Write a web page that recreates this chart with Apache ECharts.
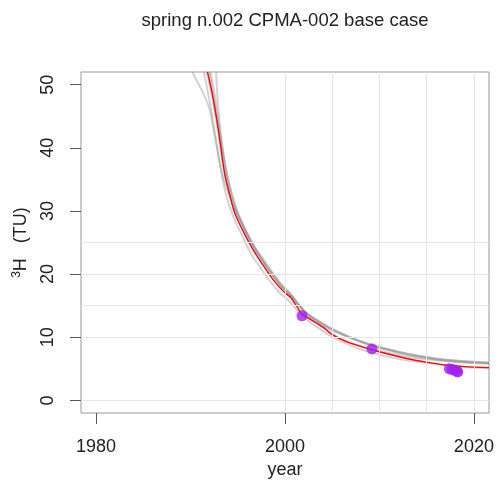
<!DOCTYPE html>
<html>
<head>
<meta charset="utf-8">
<script src="https://cdn.jsdelivr.net/npm/echarts@6/dist/echarts.min.js"></script>
<style>
  html, body { margin: 0; padding: 0; background: #fff; }
  #chart { width: 497px; height: 484px; }
</style>
</head>
<body>
<div id="chart"></div>
<script>
// Tritium decay curve for spring n.002: best-fit model (red), ensemble runs (gray), samples (purple)
const titleText = 'spring n.002 CPMA-002 base case';
const xTicks = [1980, 2000, 2020];
const yTicks = [0, 10, 20, 30, 40, 50];
const vGrid = [2000, 2005, 2010, 2015, 2020];
const hGrid = [0, 10, 15, 20, 25];

const redYears = [1991.8, 1992.4, 1993.0, 1993.6, 1994.2, 1994.7, 1995.5, 1996.6, 1997.5, 1998.7, 1999.8, 2000.6, 2001.2, 2001.8, 2002.6, 2004.0, 2005.0, 2006.5, 2009.0, 2011.0, 2013.0, 2015.0, 2017.0, 2019.0, 2021.6];
const redTU = [52, 47.8, 42.3, 36.0, 32.2, 29.6, 27.0, 23.9, 21.8, 19.2, 17.3, 16.3, 15.0, 13.7, 12.9, 11.6, 10.4, 9.3, 8.1, 7.3, 6.6, 6.05, 5.6, 5.35, 5.18];

const grayAYears = [1990.2, 1990.8, 1991.3, 1992.0, 1992.5, 1993.0, 1993.5, 1994.2, 1994.8, 1995.6, 1996.6, 1997.5, 1998.7, 1999.8, 2000.6, 2001.4, 2002.2, 2003.2, 2004.5, 2006.0, 2008.0, 2010.0, 2012.0, 2014.0, 2016.0, 2018.0, 2020.0, 2021.6];
const grayATU = [52, 50.2, 48.8, 46.2, 42.5, 38.4, 35.0, 32.0, 29.8, 27.4, 24.6, 22.5, 20.0, 17.9, 16.8, 15.2, 13.9, 12.8, 11.5, 10.4, 9.3, 8.4, 7.6, 7.0, 6.5, 6.2, 6.0, 5.85];

const grayBYears = [1992.7, 1992.9, 1993.2, 1993.6, 1994.1, 1994.7, 1995.5, 1996.6, 1997.5, 1998.7, 1999.8, 2000.6, 2001.4, 2002.2, 2003.2, 2004.5, 2006.0, 2008.0, 2010.0, 2012.0, 2014.0, 2016.0, 2018.0, 2020.0, 2021.6];
const grayBTU = [52, 47, 42, 37.5, 33.6, 30.4, 27.8, 24.8, 22.8, 20.2, 18.1, 16.9, 15.3, 13.9, 12.9, 11.7, 10.6, 9.4, 8.5, 7.7, 7.1, 6.6, 6.3, 6.1, 5.95];

const grayCYears = [1992.1, 1992.6, 1993.1, 1993.7, 1994.3, 1994.9, 1995.7, 1996.7, 1997.6, 1998.8, 1999.9, 2000.7, 2001.5, 2002.3, 2003.3, 2004.5, 2005.5, 2007.0, 2009.0, 2011.0, 2013.0, 2015.0, 2017.0, 2019.0, 2021.6];
const grayCTU = [52, 48.0, 43.0, 37.0, 33.0, 30.0, 27.3, 24.4, 22.2, 19.6, 17.6, 16.5, 15.0, 13.6, 12.6, 11.6, 10.9, 9.9, 8.7, 7.9, 7.2, 6.7, 6.3, 6.05, 5.9];

const grayDYears = [1991.4, 1992.0, 1992.6, 1993.2, 1993.8, 1994.5, 1995.4, 1996.4, 1997.4, 1998.6, 1999.6, 2000.5, 2001.3, 2002.2, 2003.4, 2004.6, 2006.0, 2008.0, 2010.0, 2012.0, 2014.0, 2016.0, 2018.0, 2020.0, 2021.6];
const grayDTU = [52, 47.5, 42.0, 36.5, 32.3, 29.2, 26.3, 23.2, 21.0, 18.5, 16.8, 15.6, 14.3, 12.9, 11.6, 10.4, 9.3, 8.1, 7.2, 6.6, 6.1, 5.7, 5.4, 5.2, 5.05];

const grayEYears = [1992.0, 1992.5, 1993.1, 1993.8, 1994.4, 1995.0, 1995.8, 1996.8, 1997.8, 1998.9, 2000.0, 2000.8, 2001.6, 2002.5, 2003.6, 2004.8, 2005.6, 2007.0, 2009.0, 2011.0, 2013.0, 2015.0, 2017.0, 2019.0, 2021.6];
const grayETU = [52, 47.6, 42.2, 36.2, 32.6, 29.8, 27.0, 24.0, 21.7, 19.4, 17.4, 16.2, 14.9, 13.3, 12.1, 10.9, 10.0, 9.1, 8.2, 7.5, 6.9, 6.5, 6.2, 6.0, 5.85];

const grayFYears = [1991.7, 1992.3, 1992.9, 1993.5, 1994.1, 1994.8, 1995.6, 1996.6, 1997.6, 1998.7, 1999.8, 2000.6, 2001.4, 2002.3, 2003.4, 2004.6, 2006.0, 2008.0, 2010.0, 2012.0, 2014.0, 2016.0, 2018.0, 2020.0, 2021.6];
const grayFTU = [52, 47.9, 42.6, 36.8, 33.0, 30.0, 27.5, 24.5, 22.2, 19.7, 17.7, 16.6, 15.2, 13.8, 12.7, 11.6, 10.5, 9.3, 8.4, 7.7, 7.1, 6.65, 6.3, 6.1, 6.0];

const sampleYears = [2001.8, 2009.2, 2017.4, 2017.7, 2017.9, 2018.2, 2018.3];
const sampleTU = [13.4, 8.15, 5.0, 4.9, 4.8, 4.6, 4.5];

const zip = (xs, ys) => xs.map((x, i) => [x, ys[i]]);
const FONT = '"Liberation Sans", Arial, sans-serif';

const grayRuns = [
  [grayAYears, grayATU], [grayBYears, grayBTU], [grayCYears, grayCTU],
  [grayDYears, grayDTU], [grayEYears, grayETU], [grayFYears, grayFTU]
];

const chart = echarts.init(document.getElementById('chart'), null, { renderer: 'canvas' });

const series = [];
// light reference grid
series.push({
  type: 'line', data: [], silent: true, z: 1,
  markLine: {
    silent: true, symbol: 'none', label: { show: false },
    lineStyle: { color: '#e6e6e6', width: 1, type: 'solid' },
    animation: false,
    data: vGrid.map(v => ({ xAxis: v })).concat(hGrid.map(h => ({ yAxis: h })))
  }
});
grayRuns.forEach(([xs, ys]) => {
  series.push({
    type: 'line', data: zip(xs, ys), showSymbol: false, smooth: 0.3, z: 2,
    lineStyle: { color: 'rgba(150,150,150,0.42)', width: 2 }, silent: true
  });
});
series.push({
  type: 'line', data: zip(redYears, redTU), showSymbol: false, smooth: 0.3, z: 3,
  lineStyle: { color: '#ff0000', width: 1.4 }, silent: true
});
series.push({
  type: 'scatter', data: zip(sampleYears, sampleTU), symbolSize: 11, z: 4,
  itemStyle: { color: '#a020f0' }, silent: true
});

chart.setOption({
  animation: false,
  backgroundColor: '#fff',
  title: {
    text: titleText, left: 280, top: 6, textAlign: 'center',
    textStyle: { fontFamily: FONT, fontSize: 18.5, fontWeight: 'normal', color: '#222' }
  },
  grid: {
    left: 81, right: 8, top: 72, bottom: 70, show: true,
    borderColor: '#999', borderWidth: 1, backgroundColor: 'transparent'
  },
  xAxis: {
    type: 'value', min: 1978.4, max: 2021.6,
    name: 'year', nameLocation: 'middle', nameGap: 48,
    nameTextStyle: { fontFamily: FONT, fontSize: 18, color: '#222' },
    axisLine: { show: false, onZero: false },
    splitLine: { show: false },
    axisTick: { show: true, inside: false, length: 11, customValues: xTicks, lineStyle: { color: '#555' } },
    axisLabel: { customValues: xTicks, margin: 25, fontFamily: FONT, fontSize: 18, color: '#222',
                 formatter: v => String(v) }
  },
  yAxis: {
    type: 'value', min: -2, max: 52,
    name: '{sup|3}H   (TU)', nameLocation: 'middle', nameGap: 50, nameRotate: 90,
    nameTextStyle: {
      fontFamily: FONT, fontSize: 18, color: '#222',
      rich: { sup: { fontFamily: FONT, fontSize: 12, color: '#222', verticalAlign: 'top', padding: [0, 0, 8, 0] } }
    },
    axisLine: { show: false, onZero: false },
    splitLine: { show: false },
    axisTick: { show: true, inside: false, length: 11, customValues: yTicks, lineStyle: { color: '#555' } },
    axisLabel: { customValues: yTicks, rotate: 90, margin: 24, fontFamily: FONT, fontSize: 18, color: '#222',
                 formatter: v => String(v) }
  },
  series: series
});
</script>
</body>
</html>
